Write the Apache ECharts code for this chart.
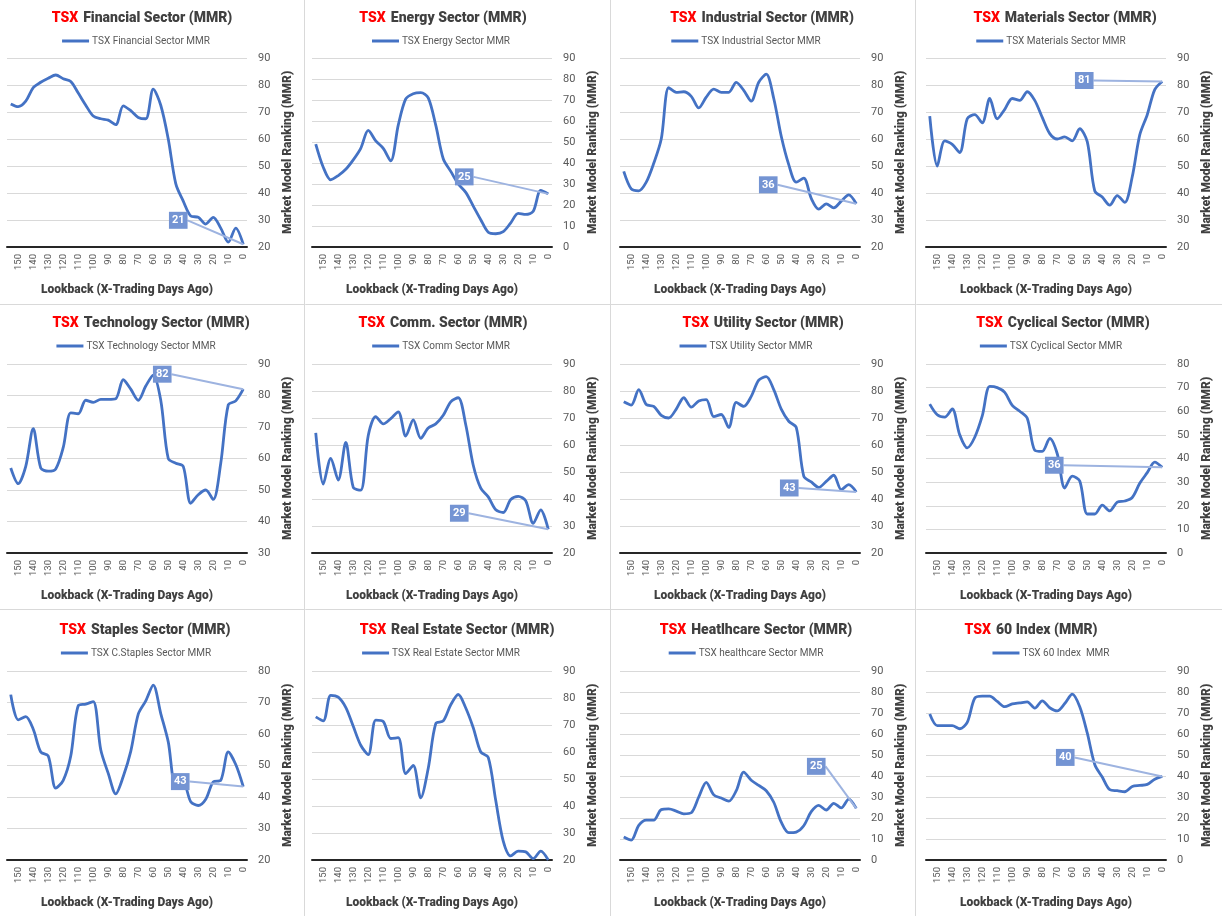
<!DOCTYPE html>
<html><head><meta charset="utf-8">
<script src="https://cdn.jsdelivr.net/npm/echarts@6/dist/echarts.min.js"></script>
<style>html,body{margin:0;padding:0;background:#fff}#c{width:1222px;height:916px}</style>
</head><body><div id="c"></div>
<script>
// Lookback categories (X trading days ago)
const days = [155,150,145,140,135,130,125,120,115,110,105,100,95,90,85,80,75,70,65,60,55,50,45,40,35,30,25,20,15,10,5,0];

const financial  = [73,72,74,79,81,82.5,83.7,82.3,81.3,77,72.5,68.5,67.5,67,65.3,72.3,70.5,68,67.5,78.5,72.5,60,43.5,37,31.5,31,28.5,31,27,21.8,27,21];
const energy     = [49,38,32,34,37,41.5,47,55.5,50.5,47,41,58,70.5,73,73.5,71,58,42,36,30,26,19.5,13,7,6.3,7.3,11.5,16,15.5,17,27,25.3];
const industrial = [48,41.5,40.8,44,51,60,79,77.3,77.5,75.8,71.5,75.5,78.5,77.3,77.3,81,78,74,81,84,75,61,50.5,44,45.5,38,34,36,34.5,37,39.3,36];
const materials  = [68.5,50,59.3,58,55,67.5,69,66,75,67.5,71,75,74.3,77.5,74.3,68,62,60,60.8,59.3,63.8,59,40.8,38.5,35.5,39,36.5,46,61.5,69,78.3,81.3];
const technology = [57,52,57.5,69.5,57,56,56.7,63.5,74.5,74.2,78.5,77.8,78.8,78.8,79,85,82,78.5,83,86.5,78.5,60,58.5,57.5,45.8,48.5,50,47,58.5,77,78.3,82];
const comm       = [64.5,45.5,55,47,61,44.3,43.3,63.5,70.5,67.8,69.8,72.3,63.3,69.3,62.5,66.3,67.8,71,76,77.5,67.5,52.5,44,40.8,36,35,39.8,41,39.3,31,36,28.8];
const utility    = [76,74.8,80.5,75,74.3,71,70,73.3,77.5,74,76.3,76.8,70.5,71.3,66.5,75.8,74.3,78,84,85.3,80.5,73.3,68.8,66.5,48.5,46.3,44.3,46.5,48.8,43.5,45.3,42.6];
const cyclical   = [63,58.5,57.5,61,50,44.5,49,58,70.5,70,68,62.5,60,57,43.5,43,48.5,42,27.5,32.5,30.5,16.5,16.5,20.3,17.8,21.5,22,23.5,29.5,34,38.5,36.3];
const staples    = [72.5,64.5,65.5,61.5,54.3,53,42.8,45.3,53,69,69.5,70.3,55,47.5,41,46.5,54.5,66.3,70.5,75.5,66.5,57.5,43.5,44.5,38.5,37.3,39.3,44.8,45.3,54.3,50.3,43.3];
const realEstate = [73,71.5,81,80.3,76.5,69.5,62.5,59,71.8,71.3,65,65.3,52,55,43,54,70.5,71.5,77.5,81.3,76.3,69,60,58,42,27,21.5,23.3,23,20.5,23.3,20];
const healthcare = [11,9.5,16.5,19,19,24,24.3,23.3,22,22.5,30,37,31,29.5,28,33,41.8,38,35.5,33,27.5,18,13,13.3,16.3,23,26,23.8,27,24.8,29,24.6];
const tsx60      = [69.5,64,64,64,62.5,65.5,77,78,78,75.5,73,74.3,74.8,75.3,72.3,75.8,72.5,71,74.5,79,73,60.5,45.5,39.5,33.5,33,32.5,35,35.5,36,38.5,39.8];

const titles = ['Financial Sector (MMR)','Energy Sector (MMR)','Industrial Sector (MMR)','Materials Sector (MMR)',
  'Technology Sector (MMR)','Comm. Sector (MMR)','Utility Sector (MMR)','Cyclical Sector (MMR)',
  'Staples Sector (MMR)','Real Estate Sector (MMR)','Heatlhcare Sector (MMR)','60 Index (MMR)'];
const seriesNames = ['TSX Financial Sector MMR','TSX Energy Sector MMR','TSX Industrial Sector MMR','TSX Materials Sector MMR',
  'TSX Technology Sector MMR','TSX Comm Sector MMR','TSX Utility Sector MMR','TSX Cyclical Sector MMR',
  'TSX C.Staples Sector MMR','TSX Real Estate Sector MMR','TSX healthcare Sector MMR','TSX 60 Index  MMR'];
const seriesData = [financial,energy,industrial,materials,technology,comm,utility,cyclical,staples,realEstate,healthcare,tsx60];
const yMin = [20,0,20,20,30,20,20,0,20,20,0,0];
const yMax = [90,90,90,90,90,90,90,80,80,90,90,90];
const showLast = [true,true,true,true,true,true,true,true,true,false,true,true];

// layout (pixels)
const labelShift = [[-65,-24],[-84,-17],[-88,-19],[-78,-1],[-81,-15],[-89,-16],[-67,-4],[-108,-2],[-63,-5],[0,0],[-40,-42],[-97,-19]];
const panelX = [0,305,610,915];
const gridLeft = [7,312,620,926];
const gridTop = [58,364,671];
const titleCY = [17,322,629];
const legendCY = [42,347,654];
const titleCX = [142,443,762,1065,151,443,763,1063,145,457,756,1031];

const FONT = 'Roboto';
const ctx = document.createElement('canvas').getContext('2d');
ctx.font = '10px ' + FONT;

const option = {animation:false, backgroundColor:'#fff', title:[], legend:[], grid:[], xAxis:[], yAxis:[], series:[], graphic:[]};

for (let i = 0; i < 12; i++) {
  const r = Math.floor(i / 4), c = i % 4;
  option.title.push({
    text: '{r|TSX} {d|' + titles[i] + '}',
    left: titleCX[i], top: titleCY[r] - 8, textAlign: 'center', padding: 0,
    textStyle: {rich: {
      r: {color:'#ff0000', fontFamily:FONT, fontWeight:900, fontSize:14},
      d: {color:'#404040', fontFamily:FONT, fontWeight:900, fontSize:14}
    }}
  });
  const tw = ctx.measureText(seriesNames[i]).width;
  const lw = 27 + 3 + tw;
  option.legend.push({
    data:[seriesNames[i]], left: panelX[c] + 136 - lw/2, top: legendCY[r] - 6, padding:0,
    icon:'rect', itemWidth:27, itemHeight:3, itemGap:3,
    textStyle:{fontFamily:FONT, fontSize:10, color:'#595959', padding:[0,0,0,-2]}
  });
  option.grid.push({left: gridLeft[c], top: gridTop[r], width: 240, height: 189});
  option.xAxis.push({
    type:'category', gridIndex:i, data: days.map(String), boundaryGap:true,
    axisTick:{show:false},
    axisLine:{lineStyle:{color:'#262626', width:2}},
    axisLabel:{interval:(idx, val) => Number(val) % 10 === 0, rotate:90, fontFamily:FONT, fontSize:9.5, color:'#595959', margin:7},
    name:'Lookback (X-Trading Days Ago)', nameLocation:'middle', nameGap:37,
    nameTextStyle:{fontFamily:FONT, fontWeight:900, fontSize:12, color:'#404040'}
  });
  option.yAxis.push({
    type:'value', gridIndex:i, position:'right', min:yMin[i], max:yMax[i], interval:10,
    axisLine:{show:false}, axisTick:{show:false},
    axisLabel:{fontFamily:FONT, fontSize:11, color:'#595959', margin:11},
    splitLine:{lineStyle:{color:'#d9d9d9', width:1}},
    name:'Market Model Ranking (MMR)', nameLocation:'middle', nameRotate:90, nameGap:35,
    nameTextStyle:{fontFamily:FONT, fontWeight:900, fontSize:12, color:'#404040'}
  });
  const d = seriesData[i];
  const n = d.length;
  option.series.push({
    type:'line', name: seriesNames[i], xAxisIndex:i, yAxisIndex:i,
    smooth:0.3, showSymbol:true, symbol:'circle', symbolSize:0.1,
    lineStyle:{color:'#4472c4', width:2.8}, itemStyle:{color:'#4472c4'},
    label:{show:false},
    labelLine:{show:true, lineStyle:{color:'#9db3e0', width:2}},
    labelLayout:{dx: labelShift[i][0], dy: labelShift[i][1]},
    data: d.map((v, j) => (j === n - 1 && showLast[i]) ? {
      value: v,
      label:{show:true, position:'inside', formatter: p => String(Math.round(p.value)),
        backgroundColor:'#7494d3', color:'#fff', fontFamily:FONT, fontWeight:'bold', fontSize:11,
        padding:[3,3,3,3], lineHeight:11}
    } : v)
  });
}
// panel separators
[304.5, 610.5, 915.5].forEach(x => option.graphic.push({type:'line', shape:{x1:x,y1:0,x2:x,y2:916}, style:{stroke:'#d9d9d9', lineWidth:1}, silent:true}));
[304.5, 609.5].forEach(y => option.graphic.push({type:'line', shape:{x1:0,y1:y,x2:1222,y2:y}, style:{stroke:'#d9d9d9', lineWidth:1}, silent:true}));

const chart = echarts.init(document.getElementById('c'), null, {renderer:'canvas'});
chart.setOption(option);
</script>
</body></html>
